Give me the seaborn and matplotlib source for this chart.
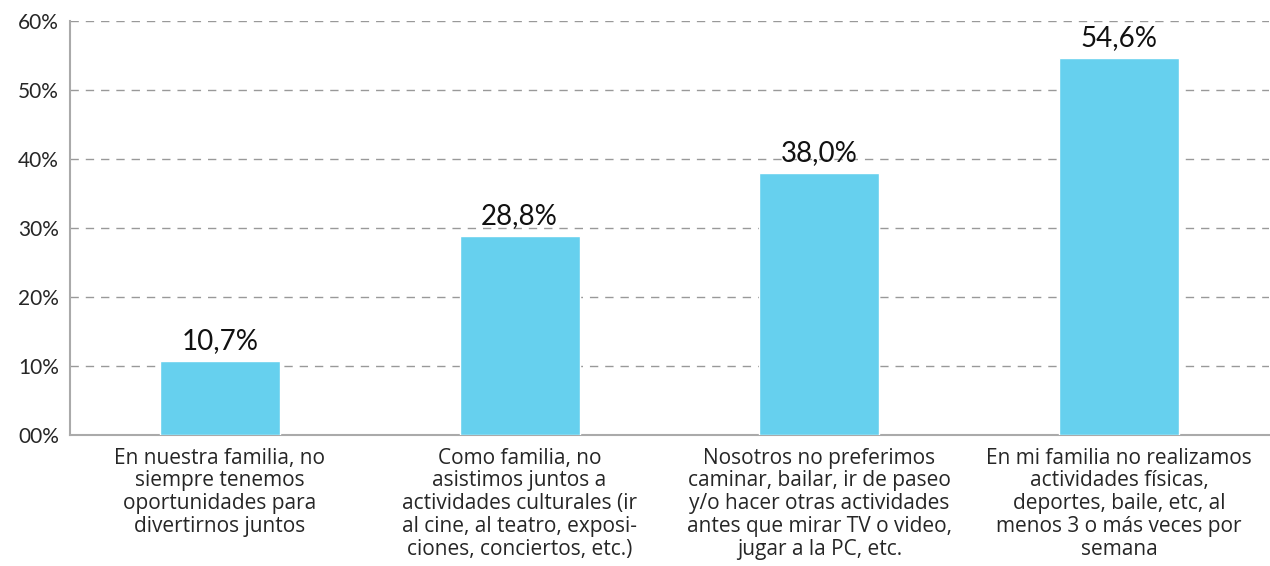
import matplotlib
matplotlib.use("Agg")
import matplotlib.pyplot as plt
import pandas as pd
import seaborn as sns
from matplotlib.ticker import FixedLocator

categories = [
    "En nuestra familia, no\nsiempre tenemos\noportunidades para\ndivertirnos juntos",
    "Como familia, no\nasistimos juntos a\nactividades culturales (ir\nal cine, al teatro, exposi-\nciones, conciertos, etc.)",
    "Nosotros no preferimos\ncaminar, bailar, ir de paseo\ny/o hacer otras actividades\nantes que mirar TV o video,\njugar a la PC, etc.",
    "En mi familia no realizamos\nactividades físicas,\ndeportes, baile, etc, al\nmenos 3 o más veces por\nsemana",
]
values = [10.7, 28.8, 38.0, 54.6]
y_ticks = [0, 10, 20, 30, 40, 50, 60]
y_tick_labels = ["00%", "10%", "20%", "30%", "40%", "50%", "60%"]

sns.set_style("white")
plt.rcParams["font.family"] = ["Open Sans", "DejaVu Sans"]

df = pd.DataFrame({"cat": categories, "val": values})

fig = plt.figure(figsize=(12.7, 5.66), dpi=100)
ax = fig.add_axes([0.0551, 0.2314, 0.9441, 0.7315])

sns.barplot(data=df, x="cat", y="val", color="#66D0EE", width=0.4,
            saturation=1, ax=ax, zorder=3)

for i, v in enumerate(values):
    ax.text(i, v + 1.0, f"{v:.1f}%".replace(".", ","), ha="center",
            va="bottom", fontsize=20, color="#111111", family="Lato")

ax.set_ylim(0, 60)
ax.set_xlim(-0.5, 3.5)
ax.set_yticks(y_ticks)
ax.set_yticklabels(y_tick_labels, fontsize=15, family="Lato")
ax.set_xticks(range(len(categories)))
ax.set_xticklabels(categories, fontsize=15, linespacing=1.12,
                   family=["Liberation Sans Narrow", "Open Sans"])
ax.xaxis.set_minor_locator(FixedLocator([-0.5, 0.5, 1.5, 2.5]))
ax.tick_params(axis="x", which="major", length=0, pad=9)
ax.tick_params(axis="x", which="minor", length=5, color="#aaaaaa", direction="out")
ax.tick_params(axis="y", length=8, color="#aaaaaa", direction="out", pad=0)
ax.set_xlabel("")
ax.set_ylabel("")

ax.grid(axis="y", linestyle=(0, (6, 5)), color="#999999", linewidth=1, zorder=0)
ax.set_axisbelow(True)
for side in ["top", "right"]:
    ax.spines[side].set_visible(False)
for side in ["left", "bottom"]:
    ax.spines[side].set_color("#aaaaaa")
    ax.spines[side].set_linewidth(1.5)

fig.savefig("out.png", dpi=100)
